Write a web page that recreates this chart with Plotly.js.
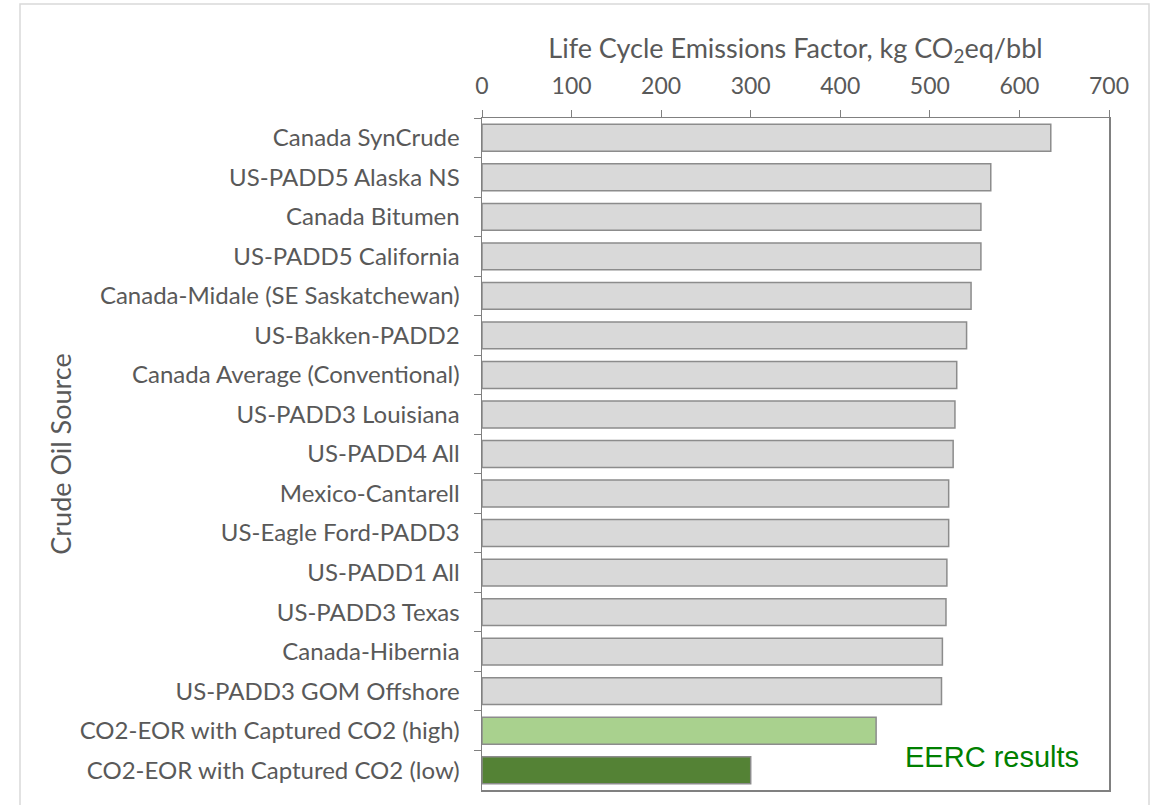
<!DOCTYPE html>
<html>
<head>
<meta charset="utf-8">
<script src="https://cdn.plot.ly/plotly-3.0.1.min.js"></script>
<style>
html,body{margin:0;padding:0;background:#fff;}
#chart{width:1155px;height:805px;}
</style>
</head>
<body>
<div id="chart"></div>
<script>
const categories = [
  "Canada SynCrude",
  "US-PADD5 Alaska NS",
  "Canada Bitumen",
  "US-PADD5 California",
  "Canada-Midale (SE Saskatchewan)",
  "US-Bakken-PADD2",
  "Canada Average (Conventional)",
  "US-PADD3 Louisiana",
  "US-PADD4 All",
  "Mexico-Cantarell",
  "US-Eagle Ford-PADD3",
  "US-PADD1 All",
  "US-PADD3 Texas",
  "Canada-Hibernia",
  "US-PADD3 GOM Offshore",
  "CO2-EOR with Captured CO2 (high)",
  "CO2-EOR with Captured CO2 (low)"
];
const emissions = [635, 568, 557, 557, 546, 541, 530, 528, 526, 521, 521, 519, 518, 514, 513, 440, 300];
const barColors = ["#d9d9d9","#d9d9d9","#d9d9d9","#d9d9d9","#d9d9d9","#d9d9d9","#d9d9d9","#d9d9d9","#d9d9d9","#d9d9d9","#d9d9d9","#d9d9d9","#d9d9d9","#d9d9d9","#d9d9d9","#a9d18e","#548235"];
const xTicks = [0, 100, 200, 300, 400, 500, 600, 700];
const xTitle = "Life Cycle Emissions Factor, kg CO<sub>2</sub>eq/bbl";
const yTitle = "Crude Oil Source";
const noteText = "EERC results";

const font = "Lato, 'Open Sans', sans-serif";
const trace = {
  type: "bar",
  orientation: "h",
  x: emissions,
  y: categories,
  marker: {color: barColors, line: {color: "#8c8c8c", width: 1.5}},
  hoverinfo: "x+y"
};

const L = 482, R = 46, T = 118, B = 15;
const W = 1155 - L - R, H = 805 - T - B;
const px = v => (v - L) / W;
const py = v => (805 - B - v) / H;

const layout = {
  width: 1155, height: 805,
  margin: {l: L, r: R, t: T, b: B, pad: 0, autoexpand: false},
  paper_bgcolor: "#fff", plot_bgcolor: "#fff",
  showlegend: false,
  bargap: 0.32,
  font: {family: font, color: "#595959", size: 24},
  xaxis: {
    side: "top",
    range: [0, 700],
    tickvals: xTicks,
    ticktext: xTicks.map(String),
    showgrid: false, zeroline: false,
    showline: true, linecolor: "#808080", linewidth: 1.5, mirror: true,
    ticks: "outside", ticklen: 7, tickcolor: "#808080", tickwidth: 1,
    ticklabelstandoff: 6,
    tickfont: {family: font, size: 23, color: "#595959"},
    title: {text: xTitle, font: {family: font, size: 27, color: "#595959"}, standoff: 5}
  },
  yaxis: {
    type: "category",
    autorange: "reversed",
    showgrid: false, zeroline: false,
    showline: true, linecolor: "#808080", linewidth: 1.5, mirror: true,
    ticks: "outside", ticklen: 7, tickcolor: "#808080", tickwidth: 1,
    tickson: "boundaries",
    ticklabelstandoff: 16,
    tickfont: {family: font, size: 24, color: "#595959"},
    title: {text: yTitle, font: {family: font, size: 27, color: "#595959"}, standoff: 0}
  },
  annotations: [{
    xref: "paper", yref: "paper",
    x: px(992), y: py(757),
    xanchor: "center", yanchor: "middle",
    text: noteText, showarrow: false,
    font: {family: "'Liberation Sans', Arial, sans-serif", size: 29, color: "#008000"}
  }],
  shapes: [{
    type: "rect", xref: "paper", yref: "paper",
    x0: px(20), x1: px(1149), y0: py(830), y1: py(4),
    line: {color: "#d9d9d9", width: 1.5}, fillcolor: "rgba(0,0,0,0)", layer: "below"
  }]
};

Plotly.newPlot("chart", [trace], layout, {displayModeBar: false, staticPlot: true});
</script>
</body>
</html>
